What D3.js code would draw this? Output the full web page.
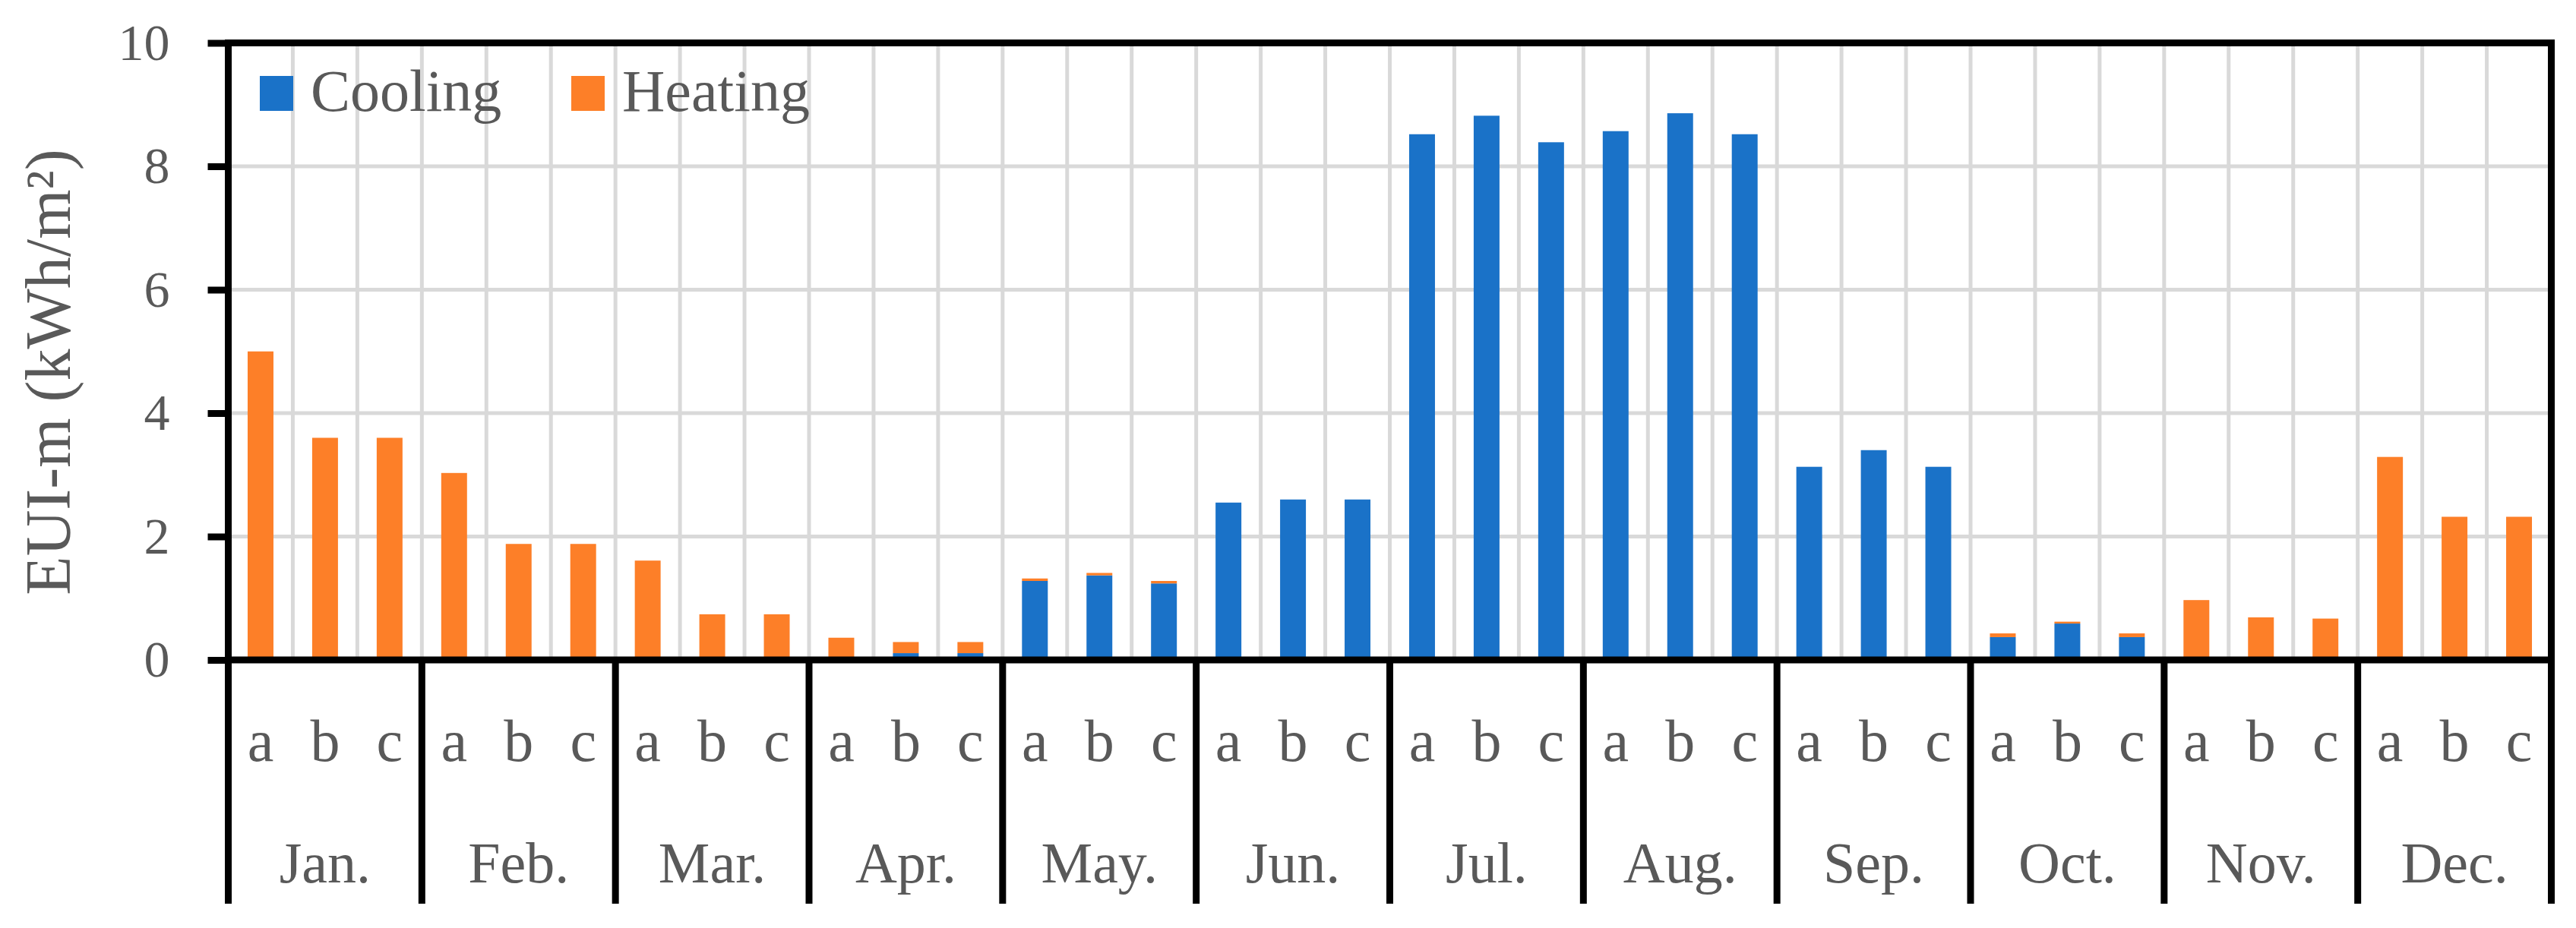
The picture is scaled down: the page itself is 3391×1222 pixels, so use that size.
<!DOCTYPE html>
<meta charset="utf-8">
<style>
body{
    margin: 0;
    background: #fff;
}
text{
    font-family: "Palatino Linotype", "Book Antiqua", Palatino, "Liberation Serif", serif;
    fill: #595959;
}
.grid line{
    stroke: #d9d9d9;
    stroke-width: 5;
}
.frame line{
    stroke: #000;
    stroke-width: 9;
    stroke-linecap: square;
}
</style>
<svg width="3391" height="1222"></svg>
<script src="https://d3js.org/d3.v7.min.js"></script>
<script>

// months on the outer axis, cases a/b/c on the inner axis
var months = ['Jan.', 'Feb.', 'Mar.', 'Apr.', 'May.', 'Jun.', 'Jul.', 'Aug.', 'Sep.', 'Oct.', 'Nov.', 'Dec.'];
var cases = ['a', 'b', 'c'];

// EUI-m values (kWh/m2), 3 cases per month
var cooling = [0, 0, 0,  0, 0, 0,  0, 0, 0,  0, 0.11, 0.11,
    1.28, 1.37, 1.24,  2.55, 2.60, 2.60,  8.52, 8.82, 8.39,  8.57, 8.86, 8.52,
    3.13, 3.40, 3.13,  0.37, 0.59, 0.37,  0, 0, 0,  0, 0, 0];
var heating = [5.0, 3.6, 3.6,  3.03, 1.88, 1.88,  1.61, 0.74, 0.74,  0.36, 0.18, 0.18,
    0.04, 0.04, 0.04,  0, 0, 0,  0, 0, 0,  0, 0, 0,
    0, 0, 0,  0.06, 0.03, 0.06,  0.97, 0.69, 0.67,  3.29, 2.32, 2.32];

var yTicks = [0, 2, 4, 6, 8, 10];
var seriesNames = ['Cooling', 'Heating'];
var colour = {Cooling: '#1a72c8', Heating: '#fd7f28'};

var svg = d3.select('svg');

var plotLeft = 300.5, plotRight = 3358.5, plotTop = 56.5, zeroY = 869, sepBottom = 1190;

var rows = [];
months.forEach(function(m, i){
    cases.forEach(function(c, j){
        var k = i * 3 + j;
        rows.push({key: m + '-' + c, month: m, kase: c, Cooling: cooling[k], Heating: heating[k]});
    });
});

var x = d3.scaleBand()
    .domain(rows.map(function(d){ return d.key; }))
    .range([plotLeft, plotRight])
    .padding(0);

var xMonth = d3.scaleBand()
    .domain(months)
    .range([plotLeft, plotRight])
    .padding(0);

var y = d3.scaleLinear()
    .domain([0, 10])
    .range([zeroY, plotTop]);

var step = x.step();

// grid
var grid = svg.append('g').attr('class', 'grid');
grid.selectAll('line.h')
    .data(yTicks.filter(function(t){ return t > 0 && t < 10; }))
    .enter().append('line')
    .attr('x1', plotLeft).attr('x2', plotRight)
    .attr('y1', function(d){ return y(d); })
    .attr('y2', function(d){ return y(d); });
grid.selectAll('line.v')
    .data(rows.slice(1))
    .enter().append('line')
    .attr('x1', function(d){ return x(d.key); })
    .attr('x2', function(d){ return x(d.key); })
    .attr('y1', plotTop).attr('y2', zeroY);

// stacked bars
var stack = d3.stack().keys(seriesNames);
var layers = stack(rows);

svg.append('g').selectAll('g')
    .data(layers)
    .enter().append('g')
    .attr('fill', function(d){ return colour[d.key]; })
    .selectAll('rect')
    .data(function(d){ return d; })
    .enter().append('rect')
    .attr('x', function(d){ return x(d.data.key) + step * 0.3; })
    .attr('width', step * 0.4)
    .attr('y', function(d){ return y(d[1]); })
    .attr('height', function(d){ return Math.max(0, y(d[0]) - y(d[1])); });

// y axis
var yAxis = svg.append('g')
    .attr('transform', 'translate(' + plotLeft + ',0)')
    .call(d3.axisLeft(y).tickValues(yTicks).tickSize(27).tickPadding(50));
yAxis.select('.domain').remove();
yAxis.selectAll('.tick line').attr('stroke', '#000').attr('stroke-width', 9);
yAxis.selectAll('.tick text')
    .attr('font-size', 68)
    .attr('fill', '#595959')
    .attr('font-family', null);

// frame and category separators
var frame = svg.append('g').attr('class', 'frame');
frame.append('line').attr('x1', plotLeft).attr('x2', plotRight).attr('y1', plotTop).attr('y2', plotTop);
frame.append('line').attr('x1', plotLeft).attr('x2', plotRight).attr('y1', zeroY).attr('y2', zeroY);
frame.append('line').attr('x1', plotRight).attr('x2', plotRight).attr('y1', plotTop).attr('y2', zeroY);
frame.append('line').attr('x1', plotLeft).attr('x2', plotLeft).attr('y1', plotTop).attr('y2', zeroY);
frame.selectAll('line.sep')
    .data(months.concat(['end']))
    .enter().append('line')
    .attr('x1', function(d){ return d == 'end' ? plotRight : xMonth(d); })
    .attr('x2', function(d){ return d == 'end' ? plotRight : xMonth(d); })
    .attr('y1', zeroY)
    .attr('y2', sepBottom)
    .style('stroke-linecap', 'butt');

// case labels
svg.append('g').selectAll('text')
    .data(rows)
    .enter().append('text')
    .attr('x', function(d){ return x(d.key) + step / 2; })
    .attr('y', 1002)
    .attr('text-anchor', 'middle')
    .attr('font-size', 78)
    .text(function(d){ return d.kase; });

// month labels
svg.append('g').selectAll('text')
    .data(months)
    .enter().append('text')
    .attr('x', function(d){ return xMonth(d) + xMonth.bandwidth() / 2; })
    .attr('y', 1162)
    .attr('text-anchor', 'middle')
    .attr('font-size', 76)
    .text(function(d){ return d; });

// y title
svg.append('text')
    .attr('transform', 'translate(92,490) rotate(-90)')
    .attr('text-anchor', 'middle')
    .attr('font-size', 84)
    .text('EUI-m (kWh/m\u00b2)');

// legend
var legendX = [342, 752];
var legend = svg.append('g').selectAll('g')
    .data(seriesNames)
    .enter().append('g')
    .attr('transform', function(d, i){ return 'translate(' + legendX[i] + ',0)'; });
legend.append('rect')
    .attr('x', 0).attr('y', 100)
    .attr('width', 44).attr('height', 46)
    .attr('fill', function(d){ return colour[d]; });
legend.append('text')
    .attr('x', 67).attr('y', 146)
    .attr('font-size', 78)
    .text(function(d){ return d; });

</script>
